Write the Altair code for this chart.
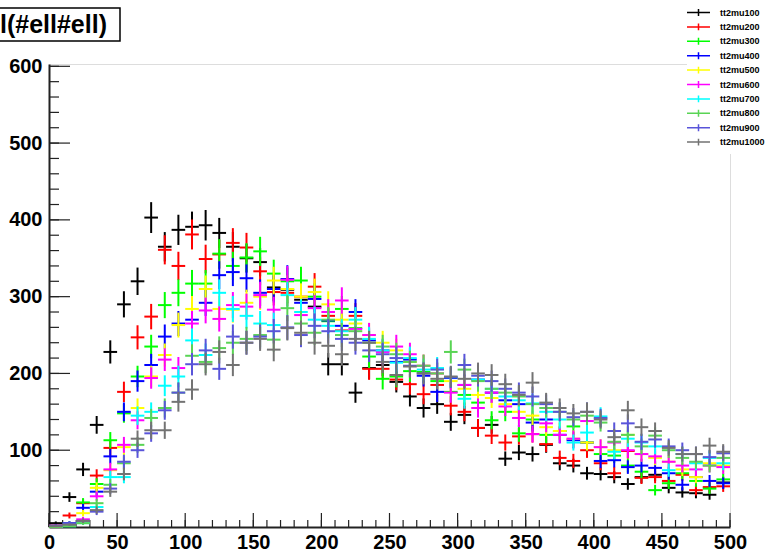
import altair as alt
import pandas as pd
import numpy as np

bin_centers = list(range(5, 500, 10))
bin_half = 5

series_names = ["tt2mu100", "tt2mu200", "tt2mu300", "tt2mu400", "tt2mu500",
                "tt2mu600", "tt2mu700", "tt2mu800", "tt2mu900", "tt2mu1000"]
series_colors = ["#000000", "#ff0000", "#00ff00", "#0000ff", "#ffff00",
                 "#ff00ff", "#00ffff", "#59d454", "#5954d9", "#737373"]

mu100 = [5, 39, 75, 133, 228, 290, 320, 403, 365, 387, 391, 393, 383, 365, 350, 345, 312, 309, 296, 287,
         212, 212, 175, 207, 211, 189, 170, 155, 160, 137, 146, 129, 133, 89, 97, 95, 107, 83, 80, 70,
         69, 65, 56, 65, 68, 51, 45, 44, 42, 58]
mu200 = [2, 15, 31, 67, 103, 176, 247, 274, 361, 340, 381, 349, 355, 370, 364, 333, 306, 305, 300, 313,
         275, 256, 275, 206, 206, 192, 186, 173, 185, 158, 150, 129, 119, 110, 118, 121, 108, 90, 86, 100,
         83, 70, 99, 64, 65, 60, 68, 48, 52, 53]
mu300 = [1, 5, 32, 56, 113, 148, 196, 235, 289, 305, 317, 317, 356, 340, 351, 359, 330, 320, 321, 300,
         268, 284, 259, 222, 193, 196, 203, 202, 190, 176, 172, 162, 139, 150, 122, 140, 120, 125, 131, 110,
         95, 93, 80, 72, 48, 57, 70, 60, 50, 62]
mu400 = [1, 5, 25, 46, 92, 150, 190, 211, 248, 265, 270, 292, 328, 332, 324, 305, 310, 323, 292, 297,
         269, 262, 280, 243, 230, 215, 218, 197, 176, 194, 185, 192, 175, 165, 160, 136, 140, 120, 113, 110,
         86, 87, 78, 80, 77, 70, 55, 65, 60, 57]
mu500 = [0, 3, 18, 51, 74, 104, 155, 196, 224, 263, 284, 310, 284, 283, 292, 300, 321, 310, 300, 306,
         290, 270, 265, 250, 240, 230, 215, 210, 200, 190, 180, 172, 168, 160, 150, 145, 130, 125, 115, 110,
         104, 100, 120, 95, 90, 85, 75, 65, 83, 80]
mu600 = [0, 2, 10, 40, 75, 107, 139, 194, 218, 207, 265, 282, 271, 289, 287, 302, 283, 322, 276, 285,
         280, 295, 258, 250, 228, 235, 225, 210, 200, 175, 185, 155, 175, 157, 142, 121, 135, 120, 115, 138,
         104, 110, 100, 95, 92, 85, 80, 75, 80, 78]
mu700 = [0, 1, 5, 26, 65, 65, 145, 150, 184, 196, 243, 224, 305, 284, 275, 265, 263, 302, 280, 270,
         262, 255, 270, 245, 230, 214, 220, 205, 207, 195, 167, 192, 180, 170, 165, 161, 150, 140, 110, 123,
         144, 98, 115, 110, 105, 74, 95, 83, 90, 83]
mu800 = [0, 1, 5, 31, 55, 83, 107, 142, 155, 175, 223, 215, 233, 240, 245, 250, 244, 285, 265, 253,
         270, 250, 255, 240, 235, 225, 215, 210, 200, 228, 205, 190, 180, 175, 170, 160, 155, 150, 140, 145,
         136, 111, 120, 105, 119, 100, 90, 85, 80, 90]
mu900 = [2, 5, 8, 20, 50, 85, 100, 122, 152, 175, 212, 230, 206, 248, 240, 248, 255, 260, 250, 262,
         255, 245, 240, 230, 225, 220, 210, 200, 205, 195, 211, 197, 190, 180, 175, 170, 160, 150, 143, 150,
         142, 125, 135, 111, 114, 105, 100, 95, 91, 96]
mu1000 = [1, 3, 8, 22, 46, 69, 115, 126, 126, 163, 179, 212, 228, 211, 240, 245, 231, 259, 253, 240,
          236, 225, 245, 240, 215, 198, 209, 200, 193, 196, 193, 200, 198, 186, 172, 188, 162, 155, 148, 150,
          140, 117, 152, 130, 125, 103, 95, 95, 106, 98]

all_series = [mu100, mu200, mu300, mu400, mu500, mu600, mu700, mu800, mu900, mu1000]

y_major = [0, 100, 200, 300, 400, 500, 600]
y_minor = list(range(0, 601, 20))
x_major = [0, 50, 100, 150, 200, 250, 300, 350, 400, 450, 500]
x_minor = list(range(0, 501, 10))

title_text = "l(#ell#ell)"

# ROOT-style crosses: bin width horizontally, sqrt(N) vertically
rows = []
for name, vals in zip(series_names, all_series):
    for xc, v in zip(bin_centers, vals):
        e = float(np.sqrt(v))
        rows.append(dict(series=name, x1=xc - bin_half, x2=xc + bin_half, y1=v, y2=v))
        rows.append(dict(series=name, x1=xc, x2=xc, y1=max(v - e, 0), y2=v + e))
df = pd.DataFrame(rows)

W, H = 681, 463
xs = alt.Scale(domain=[0, 500], nice=False, zero=False)
ys = alt.Scale(domain=[0, 603], nice=False, zero=False)
font = "Liberation Sans"

ax_x = alt.Axis(values=x_major, ticks=False, grid=False, labelFont=font, labelFontWeight="bold",
                labelFontSize=20, labelColor="#000", labelPadding=5, domainColor="#222",
                domainWidth=2, title=None, labelFlush=False)
ax_y = alt.Axis(values=y_major[1:], ticks=False, grid=False, labelFont=font, labelFontWeight="bold",
                labelFontSize=20, labelColor="#000", labelPadding=7, domainColor="#222",
                domainWidth=2, title=None)

legend = alt.Legend(
    orient="none", legendX=638, legendY=-63, title=None,
    symbolType="M-2,0H2M0,-0.6V0.6", symbolSize=132, symbolStrokeWidth=1.5,
    symbolFillColor="transparent",
    labelFont=font, labelFontWeight="bold", labelFontSize=9, labelColor="#000",
    labelOffset=15, rowPadding=1.4, fillColor="white", padding=5,
)

bars = alt.Chart(df).mark_rule(strokeWidth=2).encode(
    x=alt.X("x1:Q", scale=xs, axis=ax_x),
    x2="x2:Q",
    y=alt.Y("y1:Q", scale=ys, axis=ax_y),
    y2="y2:Q",
    color=alt.Color("series:N", scale=alt.Scale(domain=series_names, range=series_colors),
                    legend=legend),
)

ymaj = alt.Chart(pd.DataFrame({"v": y_major})).mark_rule(color="#222", strokeWidth=1.2).encode(
    y=alt.Y("v:Q", scale=ys, axis=ax_y), x=alt.value(0), x2=alt.value(21))
ymin = alt.Chart(pd.DataFrame({"v": y_minor})).mark_rule(color="#222", strokeWidth=1.2).encode(
    y=alt.Y("v:Q", scale=ys, axis=ax_y), x=alt.value(0), x2=alt.value(10))
xmaj = alt.Chart(pd.DataFrame({"v": x_major})).mark_rule(color="#222", strokeWidth=1.2).encode(
    x=alt.X("v:Q", scale=xs, axis=ax_x), y=alt.value(H), y2=alt.value(H - 14))
xmin = alt.Chart(pd.DataFrame({"v": x_minor})).mark_rule(color="#222", strokeWidth=1.2).encode(
    x=alt.X("v:Q", scale=xs, axis=ax_x), y=alt.value(H), y2=alt.value(H - 7))

tdf = pd.DataFrame({"t": [title_text]})
tbox = alt.Chart(tdf).mark_rect(fill="white", stroke="#000", strokeWidth=1.5).encode(
    x=alt.value(-60), x2=alt.value(71), y=alt.value(-56), y2=alt.value(-23))
ttext = alt.Chart(tdf).mark_text(align="right", baseline="middle", font=font,
                                 fontWeight="bold", fontSize=25, color="#000").encode(
    x=alt.value(58), y=alt.value(-39), text="t:N")

chart = alt.layer(ymin, ymaj, xmin, xmaj, bars, tbox, ttext).properties(
    width=W, height=H,
    autosize=alt.AutoSizeParams(type="none"),
    padding={"left": 49, "top": 64, "right": 38, "bottom": 26},
).configure_view(stroke="#444", strokeWidth=1.5).configure(background="white")

chart.save("out.html", embed_options={"renderer": "svg", "actions": False})
